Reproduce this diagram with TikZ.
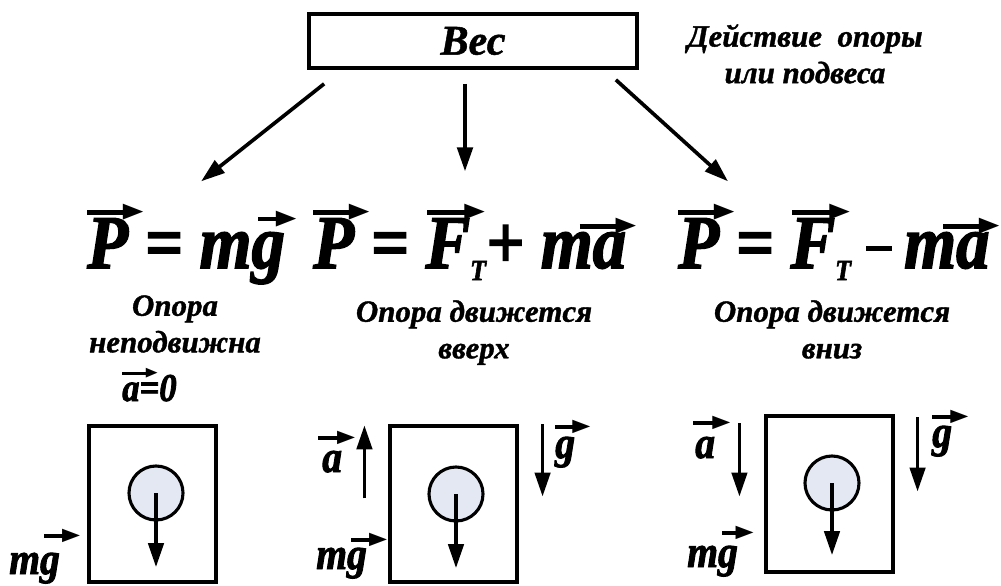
\documentclass[tikz,border=0pt]{standalone}
\usepackage{fontspec}
\usepackage{graphicx}
\setmainfont{Liberation Serif}
\newfontfamily\txtfont[FakeBold=1.2]{Liberation Serif}
\newfontfamily\eqfont[FakeStretch=0.88, FakeBold=2]{Liberation Serif}
\newfontfamily\arrfont{DejaVu Sans}
\usetikzlibrary{arrows.meta,calc}
\definecolor{ballfill}{HTML}{E3E8F3}
% vector arrow over a letter: {letter}{offset}{length}{raise}
\def\headw{0.27em}
\def\headh{0.21em}
\def\shaftw{0.065em}
\newcommand\vecline[1]{\rule[\dimexpr(\headh-\shaftw)/2\relax]{\dimexpr#1-\headw+0.03em\relax}{\shaftw}\kern-0.03em\raisebox{\depth}{\resizebox*{\headw}{\headh}{\arrfont ▶}}}
\newcommand\vecarr[4]{\rlap{\kern#2\raisebox{#4}{\vecline{#3}}}#1}
\newcommand\subT{\raisebox{-0.16em}{\fontsize{21}{21}\selectfont T}}
\newcommand\minusbar{\kern0.2em\rule[0.22em]{0.34em}{0.075em}\kern0.16em}
\begin{document}
\begin{tikzpicture}[x=0.025cm, y=-0.025cm, >={Triangle[length=17pt,width=11pt]},
  title/.style={draw, line width=2.6pt, minimum width=8.2cm, minimum height=1.35cm,
    font=\txtfont\fontsize{30}{32}\selectfont\bfseries\itshape},
  note/.style={align=center, inner sep=0pt, anchor=north,
    font=\txtfont\fontsize{22}{26}\selectfont\bfseries\itshape},
  eqn/.style={anchor=base west, inner sep=0pt,
    font=\eqfont\fontsize{54}{60}\selectfont\bfseries\itshape},
  lab/.style={anchor=base west, inner sep=0pt,
    font=\def\headw{0.4em}\def\headh{0.3em}\def\shaftw{0.085em}\eqfont\fontsize{32}{34}\selectfont\bfseries\itshape},
  body/.style={draw, line width=2.2pt, minimum width=3.175cm, minimum height=3.9cm},
  ball/.style={circle, draw, line width=2.2pt, fill=ballfill, minimum size=1.35cm, inner sep=0pt},
  conn/.style={->, line width=2.6pt},
  force/.style={->, line width=2.3pt}]
\useasboundingbox (0,0) rectangle (1001,586);
% top
\node[title] (wes) at (473,41) {Вес};
\node[note] (action) at (805,24) {Действие\ \ опоры\\или подвеса};
% formulas
\node[eqn] (eq1) at (87,268) {\vecarr{P}{0em}{0.74em}{0.625em} = m\vecarr{g}{0.09em}{0.5em}{0.54em}};
\node[eqn] (eq2) at (313,268) {\vecarr{P}{0em}{0.74em}{0.625em} = \vecarr{F}{0.02em}{0.76em}{0.625em}\subT+ m\vecarr{a}{-0.17em}{0.74em}{0.445em}};
\node[eqn] (eq3) at (678,268) {\vecarr{P}{0em}{0.74em}{0.625em} = \vecarr{F}{0.02em}{0.76em}{0.625em}\subT\minusbar m\vecarr{a}{-0.17em}{0.74em}{0.445em}};
\coordinate (mid) at ($(wes.south)+(-8,14)$);
\draw[conn] ($(wes.south west)+(17,14)$) -- ($(eq1.north)+(15,-23)$);
\draw[conn] (mid) -- ($(mid |- eq2.north)+(0,-33)$);
\draw[conn] ($(wes.south east)+(-23,10)$) -- ($(eq3.north west)+(50,-23)$);
% cases
\node[note] (sub1) at (175,295) {Опора\\неподвижна};
\node[note] (sub2) at (474,300) {Опора движется\\вверх};
\node[note] (sub3) at (832,300) {Опора движется\\вниз};
% case 1
\node[lab, font=\def\headw{0.3em}\def\headh{0.25em}\def\shaftw{0.08em}\eqfont\fontsize{28}{30}\selectfont\bfseries\itshape] (a1) at (122,401) {\vecarr{a}{0em}{0.9em}{0.58em}=0};
\node[body] (box1) at (152.5,504) {};
\node[ball] (c1) at (156,493) {};
\draw[force] (c1.center) -- ++(0,74);
\node[lab] (mg1) at (9,574) {m\vecarr{g}{0.09em}{0.8em}{0.7em}};
% case 2
\node[body] (box2) at (453.5,504) {};
\node[ball] (c2) at (456,494) {};
\draw[force] (c2.center) -- ++(0,74);
\draw[force] ($(box2.north west)+(-24,74)$) -- ($(box2.north west)+(-24,1)$);
\draw[force] ($(box2.north east)+(24,0)$) -- ($(box2.north east)+(24,72)$);
\node[lab] (a2) at (322,472) {\vecarr{a}{-0.09em}{0.82em}{0.61em}};
\node[lab] (g2) at (555,458) {\vecarr{g}{0em}{0.78em}{0.54em}};
\node[lab] (mg2) at (316,569) {m\vecarr{g}{0.09em}{0.8em}{0.5em}};
% case 3
\node[body] (box3) at (829.5,494) {};
\node[ball] (c3) at (832,483) {};
\draw[force] (c3.center) -- ++(0,72);
\draw[force] ($(box3.north west)+(-25,9)$) -- ($(box3.north west)+(-25,82)$);
\draw[force] ($(box3.north east)+(23,3)$) -- ($(box3.north east)+(23,77)$);
\node[lab] (a3) at (695,458) {\vecarr{a}{-0.04em}{0.82em}{0.63em}};
\node[lab] (g3) at (932,447) {\vecarr{g}{0em}{0.8em}{0.52em}};
\node[lab] (mg3) at (687,567) {m\vecarr{g}{0.09em}{0.7em}{0.6em}};
\end{tikzpicture}
\end{document}
